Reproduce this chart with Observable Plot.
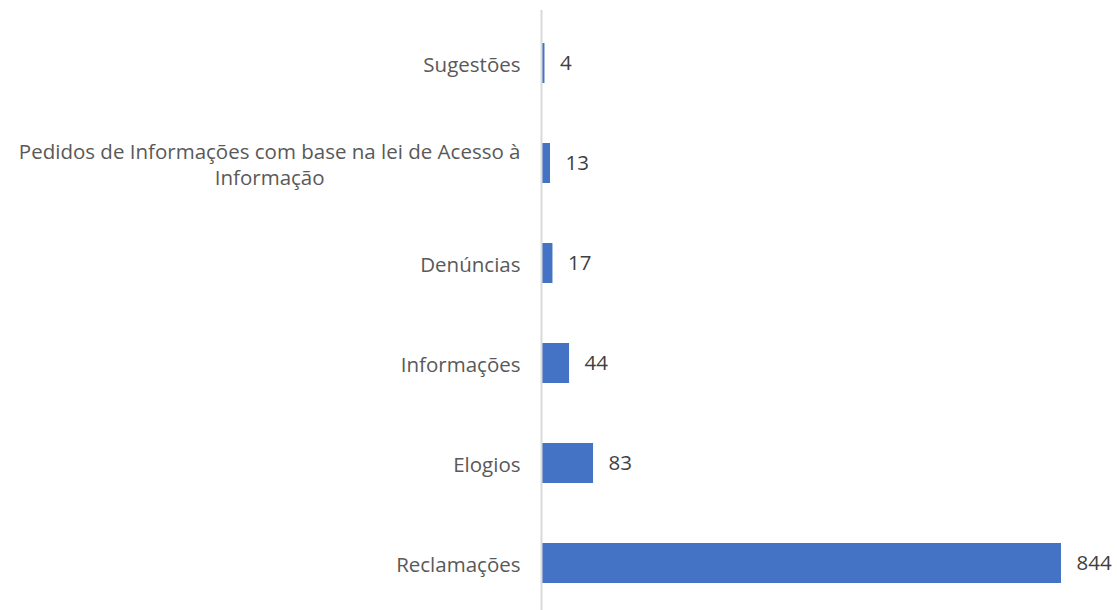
<!DOCTYPE html>
<html>
<head>
<meta charset="utf-8">
<script src="https://cdn.jsdelivr.net/npm/d3@7"></script>
<script src="https://cdn.jsdelivr.net/npm/@observablehq/plot@0.6"></script>
<style>
  html, body { margin: 0; padding: 0; background: #fff; }
  #chart { width: 1117px; height: 610px; }
</style>
</head>
<body>
<div id="chart"></div>
<script>
const categories = [
  "Sugestões",
  "Pedidos de Informações com base na lei de Acesso à\nInformação",
  "Denúncias",
  "Informações",
  "Elogios",
  "Reclamações"
];
const values = [4, 13, 17, 44, 83, 844];

const data = categories.map((c, i) => ({category: c, value: values[i]}));
const FONT = "'Open Sans', sans-serif";

const plot = Plot.plot({
  width: 1117,
  height: 610,
  marginLeft: 542,
  marginRight: 56,
  marginTop: 10,
  marginBottom: 0,
  style: {fontFamily: FONT, fontSize: "20.5px", background: "#fff"},
  x: {domain: [0, 844], axis: null},
  y: {domain: categories, range: [12, 614], paddingInner: 0.6, paddingOuter: 0.3, label: null},
  marks: [
    Plot.barX(data, {x: "value", y: "category", fill: "#4472c4"}),
    Plot.ruleX([0], {stroke: "#d9d9d9", strokeWidth: 2, dx: -1}),
    Plot.text(data, {x: "value", y: "category", text: d => String(d.value), textAnchor: "start", dx: 15, fill: "#404040", fontSize: 20.5}),
    Plot.axisY({tickSize: 0, tickPadding: 22, fontSize: 20.5, color: "#595959", label: null, lineHeight: 1.3})
  ]
});
document.getElementById("chart").appendChild(plot);

// center multi-line tick labels (like the reference's wrapped category label)
plot.querySelectorAll("g[aria-label='y-axis tick label'] text").forEach(t => {
  const tspans = t.querySelectorAll("tspan");
  if (tspans.length > 1) {
    const w = t.getBBox().width;
    t.setAttribute("text-anchor", "middle");
    const tr = t.getAttribute("transform") || "";
    t.setAttribute("transform", tr + ` translate(${-w / 2},0)`);
  }
});
</script>
</body>
</html>
